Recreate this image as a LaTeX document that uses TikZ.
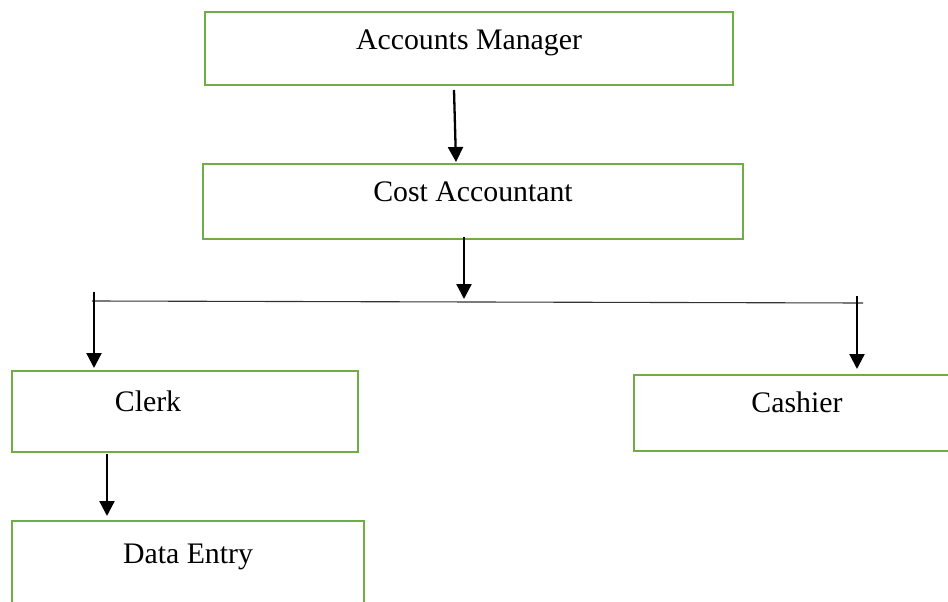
\documentclass[tikz,border=0pt]{standalone}
\usepackage{fontspec}
\setmainfont{Liberation Serif}
\usetikzlibrary{arrows.meta}
\definecolor{boxgreen}{RGB}{112,173,71}
\begin{document}
\begin{tikzpicture}[x=1pt,y=-1pt,
  box/.style={draw=boxgreen,line width=2.8pt,inner sep=0pt,outer sep=0pt,anchor=north west},
  lbl/.style={font=\fontsize{29.8}{34}\selectfont,inner sep=0pt,anchor=base},
  link/.style={line width=2.3pt,-{Triangle[width=15pt,length=15pt]}},
  bus/.style={line width=1.1pt,draw=black!80}]
\useasboundingbox (0,0) rectangle (948,602);
\clip (0,0) rectangle (948,602);

% boxes
\node[box,minimum width=528pt,minimum height=73pt] (mgr) at (205,12) {};
\node[box,minimum width=540pt,minimum height=75pt] (cost) at (203,164) {};
\node[box,minimum width=346pt,minimum height=81pt] (clerk) at (12,371) {};
\node[box,minimum width=330pt,minimum height=76pt] (cashier) at (634,375) {};
\node[box,minimum width=352pt,minimum height=120pt] (data) at (12,521) {};

% labels
\node[lbl] (tmgr) at (469,50) {Accounts Manager};
\node[lbl] (tcost) at (473,201) {Cost Accountant};
\node[lbl] (tclerk) at (148,411) {Clerk};
\node[lbl] (tcashier) at (797,412) {Cashier};
\node[lbl] (tdata) at (188,563) {Data Entry};

% connector points
\coordinate (m1) at (454,90);
\coordinate (m2) at (456,162);
\coordinate (c1) at (464,237);
\coordinate (c2) at (464,299);
\coordinate (busL) at (92,301);
\coordinate (busR) at (863,303);
\coordinate (l1) at (94,292);
\coordinate (l2) at (94,368);
\coordinate (r1) at (857,296);
\coordinate (r2) at (857,369);
\coordinate (k1) at (107,454);
\coordinate (k2) at (107,516);

% connectors
\draw[link] (m1) -- (m2);
\draw[link] (c1) -- (c2);
\draw[bus] (busL) -- (busR);
\draw[link] (l1) -- (l2);
\draw[link] (r1) -- (r2);
\draw[link] (k1) -- (k2);
\end{tikzpicture}
\end{document}
